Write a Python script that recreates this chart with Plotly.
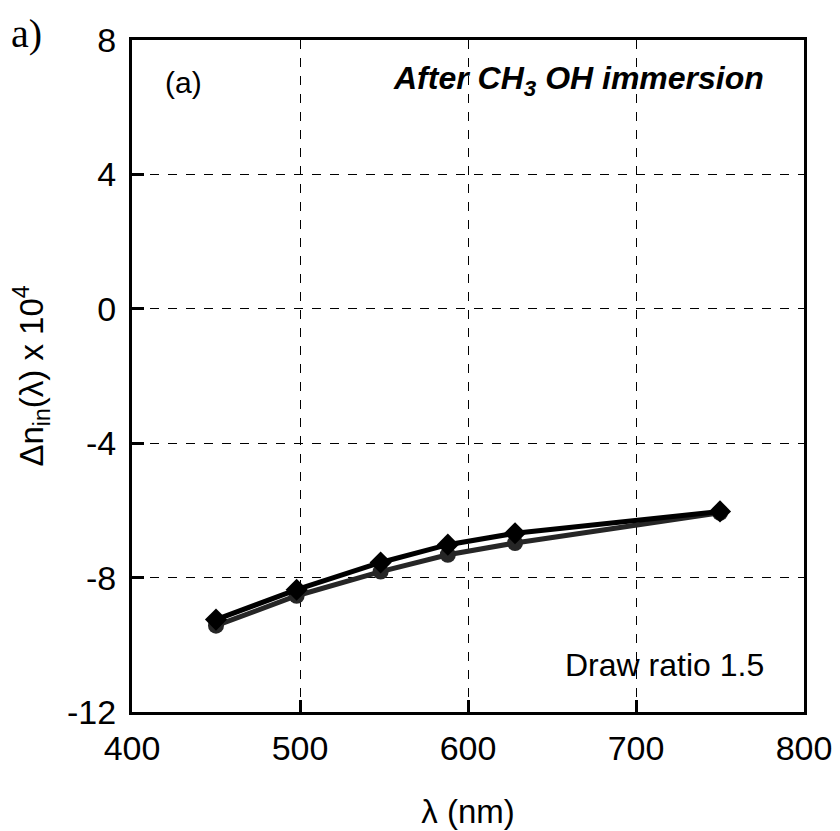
import plotly.graph_objects as go

wavelength = [450, 498, 548, 588, 628, 750]
dn_diamond = [-9.25, -8.36, -7.55, -7.02, -6.68, -6.03]
dn_circle = [-9.43, -8.54, -7.82, -7.32, -6.97, -6.07]

x_ticks = [400, 500, 600, 700, 800]
y_ticks = [-12, -8, -4, 0, 4, 8]
y_tick_labels = ["-12", "-8", "-4", "0", "4", "8"]

fig = go.Figure()
fig.add_trace(go.Scatter(x=wavelength, y=dn_circle, mode="lines+markers",
                         line=dict(color="#262626", width=5),
                         marker=dict(symbol="circle", size=16, color="#262626")))
fig.add_trace(go.Scatter(x=wavelength, y=dn_diamond, mode="lines+markers",
                         line=dict(color="black", width=5),
                         marker=dict(symbol="diamond", size=17, color="black")))

font = "Liberation Sans, Arial, sans-serif"
axis_common = dict(showline=True, linecolor="black", linewidth=3, mirror=True,
                   ticks="inside", ticklen=12, tickwidth=3, tickcolor="black",
                   showgrid=True, gridcolor="black", gridwidth=1, griddash="dash",
                   zeroline=False, automargin=False,
                   tickfont=dict(family=font, size=34, color="black"))

fig.update_layout(
    width=832, height=823,
    margin=dict(l=124, r=36, t=32, b=119),
    paper_bgcolor="white", plot_bgcolor="white",
    showlegend=False,
    xaxis=dict(range=[400, 800], tickvals=x_ticks, ticklabelstandoff=4, **axis_common,
               title=dict(text="λ (nm)", font=dict(family=font, size=33, color="black"), standoff=35)),
    yaxis=dict(range=[-12, 8], tickvals=y_ticks, ticktext=y_tick_labels, ticklabelstandoff=6, **axis_common,
               title=dict(text="Δn<sub>in</sub>(λ) x 10<sup>4</sup>", font=dict(family=font, size=33, color="black"), standoff=16)),
)

fig.add_annotation(x=0.0, y=1.0, xref="paper", yref="paper", xanchor="left", yanchor="top",
                   text="a)", showarrow=False, font=dict(family="Liberation Serif, Times New Roman, serif", size=40, color="black"),
                   xshift=-123, yshift=31)
fig.add_annotation(x=0.076, y=0.9375, xref="paper", yref="paper", xanchor="center", yanchor="middle",
                   text="(a)", showarrow=False, font=dict(family=font, size=30, color="black"))
fig.add_annotation(x=0.944, y=0.94, xref="paper", yref="paper", xanchor="right", yanchor="middle",
                   text="<b><i>After CH<sub>3</sub> OH immersion</i></b>", showarrow=False,
                   font=dict(family=font, size=32, color="black"))
fig.add_annotation(x=0.944, y=0.07, xref="paper", yref="paper", xanchor="right", yanchor="middle",
                   text="Draw ratio 1.5", showarrow=False, font=dict(family=font, size=32, color="black"))

fig.write_html("out.html")
